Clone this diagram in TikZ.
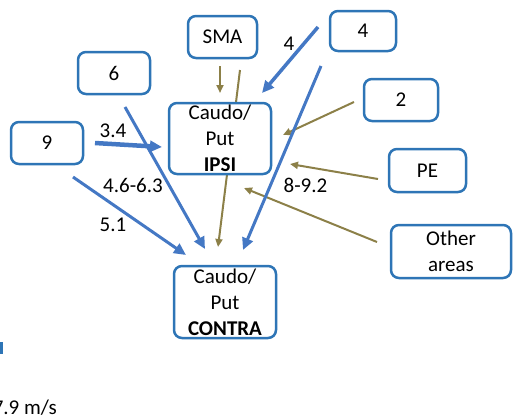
\documentclass[tikz,border=0pt]{standalone}
\usepackage{fontspec}
\setmainfont{Carlito}
\usetikzlibrary{arrows.meta,backgrounds}
\definecolor{boxblue}{RGB}{46,117,182}
\definecolor{lineblue}{RGB}{68,120,196}
\definecolor{olivec}{RGB}{140,128,72}
\begin{document}
\begin{tikzpicture}[x=1pt,y=-1pt,
  box/.style={draw=boxblue, line width=2.5pt, rounded corners=8pt, fill=white, align=center, inner sep=0pt, font=\fontsize{21}{26}\selectfont},
  bl/.style={draw=lineblue, line width=3pt, -{Triangle[length=12pt,width=11pt]}},
  ol/.style={draw=olivec, line width=2pt, -{Triangle[length=8pt,width=7pt]}},
  lbl/.style={font=\fontsize{21}{26}\selectfont, inner sep=0pt}]
\useasboundingbox (0,0) rectangle (514,418);
% boxes
\node[box, minimum width=69pt, minimum height=42pt] (sma) at (222.5,37) {SMA};
\node[box, minimum width=66pt, minimum height=40pt] (four) at (363,31) {4};
\node[box, minimum width=72pt, minimum height=42pt] (six) at (114,73) {6};
\node[box, minimum width=74pt, minimum height=42pt] (two) at (401,100) {2};
\node[box, minimum width=72pt, minimum height=42pt] (nine) at (47,143) {9};
\node[box, minimum width=77pt, minimum height=43pt] (pe) at (427.5,170.5) {PE};
\node[box, minimum width=102pt, minimum height=71pt] (ipsi) at (220,138.5) {Caudo/\\Put\\\textbf{IPSI}};
\node[box, minimum width=102pt, minimum height=72pt] (contra) at (225,302) {Caudo/\\Put\\\textbf{CONTRA}};
\node[box, minimum width=120pt, minimum height=53pt] (other) at (451,251.5) {Other\\areas};
% connector end points
\coordinate (smaA) at (220,66);   \coordinate (ipsiA) at (220,93);
\coordinate (smaB) at (240,70);   \coordinate (contraA) at (218,247);
\coordinate (fourA) at (318,27);  \coordinate (ipsiB) at (262,93);
\coordinate (fourB) at (321,66);  \coordinate (contraB) at (243,250);
\coordinate (twoA) at (354,102);  \coordinate (ipsiC) at (283,135);
\coordinate (peA) at (378,179);   \coordinate (ipsiD) at (290,164);
\coordinate (otherA) at (377,242);\coordinate (ipsiE) at (244,188);
\coordinate (nineA) at (95,143);  \coordinate (ipsiF) at (162,147);
\coordinate (sixA) at (125,107);  \coordinate (contraC) at (205,249);
\coordinate (nineB) at (73,177);  \coordinate (contraD) at (186,255);
\begin{scope}[on background layer]
\draw[ol] (smaA) -- (ipsiA);
\draw[ol] (smaB) -- (contraA);
\draw[ol] (twoA) -- (ipsiC);
\draw[ol] (peA) -- (ipsiD);
\draw[ol] (otherA) -- (ipsiE);
\draw[bl, line width=3.5pt] (fourA) -- (ipsiB);
\draw[bl] (fourB) -- (contraB);
\draw[bl, line width=4.5pt] (nineA) -- (ipsiF);
\draw[bl] (sixA) -- (contraC);
\draw[bl] (nineB) -- (contraD);
\end{scope}
% labels
\node[lbl] (l4) at (289,43.5) {4};
\node[lbl] (l34) at (113,131) {3.4};
\node[lbl] (l46) at (133,185.5) {4.6-6.3};
\node[lbl] (l51) at (113,225) {5.1};
\node[lbl] (l89) at (305.5,185.5) {8-9.2};
% stray marks
\fill[boxblue] (0,342) rectangle (3,354);
\node[lbl, anchor=base east] (speed) at (57,414) {7.9 m/s};
\end{tikzpicture}
\end{document}
